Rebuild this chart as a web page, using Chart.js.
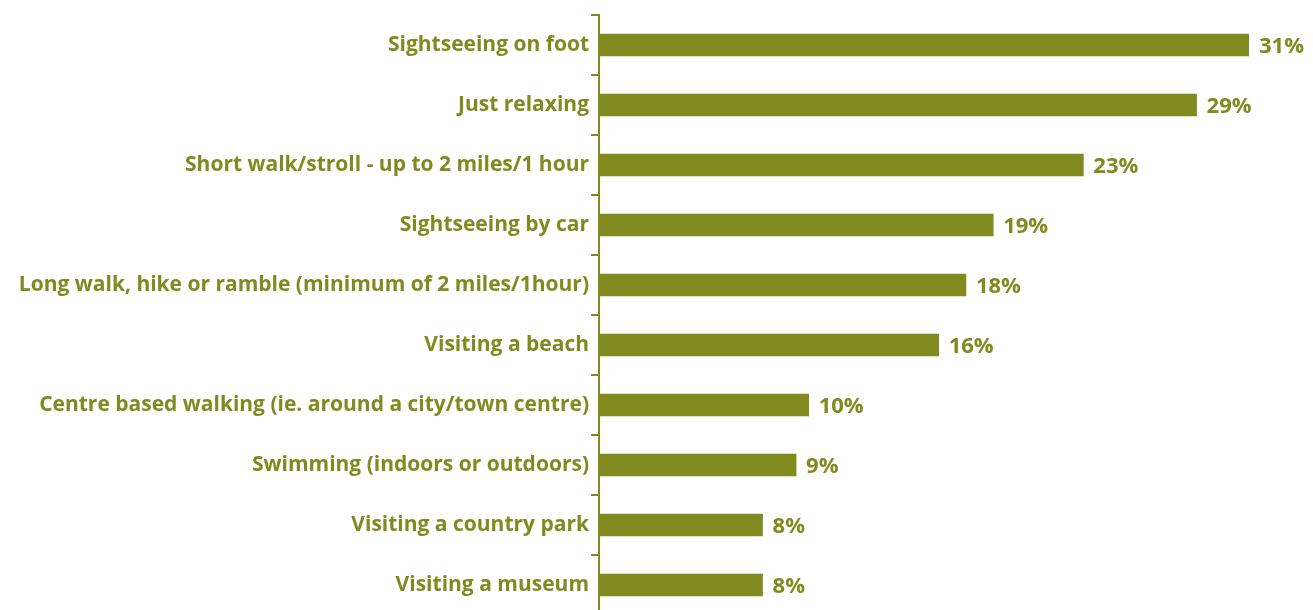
<!DOCTYPE html>
<html>
<head>
<meta charset="utf-8">
<script src="https://cdn.jsdelivr.net/npm/chart.js@4"></script>
<style>
html,body{margin:0;padding:0;background:#fff;overflow:hidden;}
#wrap{width:1313px;height:610px;position:relative;overflow:hidden;}
canvas{display:block;}
</style>
</head>
<body>
<div id="wrap"><canvas id="c" width="1313" height="615"></canvas></div>
<script>
const categories = [
  "Sightseeing on foot",
  "Just relaxing",
  "Short walk/stroll - up to 2 miles/1 hour",
  "Sightseeing by car",
  "Long walk, hike or ramble (minimum of 2 miles/1hour)",
  "Visiting a beach",
  "Centre based walking (ie. around a city/town centre)",
  "Swimming (indoors or outdoors)",
  "Visiting a country park",
  "Visiting a museum"
];
const shares = [31.0, 28.5, 23.1, 18.8, 17.5, 16.2, 10.0, 9.4, 7.8, 7.8];

const OLIVE = "#808A1E";
const FONT = "'Open Sans'";

const valueLabels = {
  id: "valueLabels",
  afterDatasetsDraw(chart) {
    const ctx = chart.ctx;
    const meta = chart.getDatasetMeta(0);
    ctx.save();
    ctx.fillStyle = OLIVE;
    ctx.font = "bold 22px " + FONT;
    ctx.textAlign = "left";
    ctx.textBaseline = "middle";
    meta.data.forEach((bar, i) => {
      ctx.fillText(Math.round(shares[i]) + "%", bar.x + 10, bar.y + 2);
    });
    ctx.restore();
  }
};

new Chart(document.getElementById("c"), {
  type: "bar",
  data: {
    labels: categories,
    datasets: [{
      data: shares,
      backgroundColor: OLIVE,
      barThickness: 22,
      borderWidth: 0
    }]
  },
  options: {
    indexAxis: "y",
    responsive: false,
    animation: false,
    layout: { padding: { top: 15, right: 64, bottom: 0, left: 0 } },
    plugins: { legend: { display: false }, tooltip: { enabled: false } },
    scales: {
      x: { display: false, min: 0, max: 31 },
      y: {
        afterFit(scale) { scale.width = 599; scale.paddingTop = 0; scale.paddingBottom = 0; },
        border: { display: true, color: OLIVE, width: 2 },
        grid: { drawOnChartArea: false, color: OLIVE, lineWidth: 2, tickLength: 8, offset: true },
        ticks: { color: OLIVE, padding: 2, font: { family: FONT, size: 21, weight: "bold" } }
      }
    }
  },
  plugins: [valueLabels]
});
</script>
</body>
</html>
